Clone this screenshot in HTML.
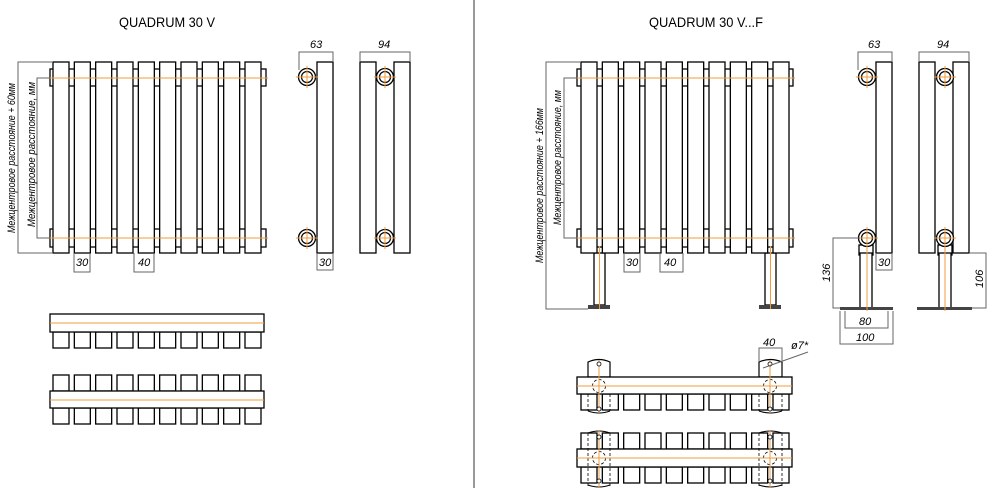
<!DOCTYPE html>
<html><head><meta charset="utf-8"><style>
html,body{margin:0;padding:0;background:#fff}
svg{display:block}
text{font-family:"Liberation Sans","DejaVu Sans",sans-serif}
.t{font-size:14px}
.d{font-size:11px;font-style:italic}
</style></head><body>
<svg width="1000" height="488" viewBox="0 0 1000 488" xmlns="http://www.w3.org/2000/svg">
<defs>
<rect id="sec" x="0" y="0" width="16" height="191" fill="#fff" stroke="#000" stroke-width="1.3"/>
<rect id="sq" x="0" y="0" width="16" height="16" fill="#fff" stroke="#000" stroke-width="1.3"/>
<g id="pipe"><circle r="8.5" fill="#fff" stroke="#000" stroke-width="1.3"/><circle r="5.5" fill="none" stroke="#000" stroke-width="1.2"/><line x1="-11" y1="0" x2="11" y2="0" stroke="#f39c3c" stroke-width="1"/><line x1="0" y1="-11" x2="0" y2="11" stroke="#f39c3c" stroke-width="1"/></g>
<g id="row10">
<use href="#sq" x="0"/><use href="#sq" x="21.33"/><use href="#sq" x="42.67"/><use href="#sq" x="64"/><use href="#sq" x="85.33"/><use href="#sq" x="106.67"/><use href="#sq" x="128"/><use href="#sq" x="149.33"/><use href="#sq" x="170.67"/><use href="#sq" x="192"/>
</g>
<g id="secs">
<use href="#sec" x="0"/><use href="#sec" x="21.33"/><use href="#sec" x="42.67"/><use href="#sec" x="64"/><use href="#sec" x="85.33"/><use href="#sec" x="106.67"/><use href="#sec" x="128"/><use href="#sec" x="149.33"/><use href="#sec" x="170.67"/><use href="#sec" x="192"/>
</g>
</defs>

<line x1="474" y1="0" x2="474" y2="488" stroke="#333" stroke-width="1"/>
<text class="t" x="119" y="27" textLength="96" lengthAdjust="spacingAndGlyphs">QUADRUM 30 V</text>
<text class="t" x="649" y="27" textLength="114" lengthAdjust="spacingAndGlyphs">QUADRUM 30 V...F</text>

<!-- LEFT front -->
<g stroke="#000" stroke-width="1.3" fill="#fff">
<rect x="50" y="69" width="216" height="17"/>
<rect x="50" y="229" width="216" height="18"/>
</g>
<use href="#secs" x="53" y="62"/>
<line x1="50" y1="78" x2="268" y2="78" stroke="#f39c3c" stroke-width="1"/>
<line x1="50" y1="238" x2="268" y2="238" stroke="#f39c3c" stroke-width="1"/>
<g stroke="#666" stroke-width="1" fill="none">
<polyline points="53,62 18,62 18,253 53,253"/>
<polyline points="50,78 37,78 37,238 50,238"/>
<polyline points="74,253 74,272 90,272 90,253"/>
<polyline points="134,253 134,272 154,272 154,253"/>
</g>
<text class="d" transform="translate(15,233) rotate(-90)" textLength="150" lengthAdjust="spacingAndGlyphs">Межцентровое расстояние + 60мм</text>
<text class="d" transform="translate(35,227) rotate(-90)" textLength="145" lengthAdjust="spacingAndGlyphs">Межцентровое расстояние, мм</text>
<text class="d" x="76" y="266">30</text>
<text class="d" x="138" y="266">40</text>

<!-- LEFT side views -->
<rect x="317" y="62" width="16" height="191" fill="#fff" stroke="#000" stroke-width="1.3"/>
<use href="#pipe" x="307" y="77"/><use href="#pipe" x="307" y="238"/>
<rect x="360" y="62" width="16" height="191" fill="#fff" stroke="#000" stroke-width="1.3"/>
<rect x="394" y="62" width="16" height="191" fill="#fff" stroke="#000" stroke-width="1.3"/>
<use href="#pipe" x="385" y="77"/><use href="#pipe" x="385" y="238"/>
<g stroke="#666" stroke-width="1" fill="none">
<polyline points="299,70 299,52 333,52 333,62"/>
<polyline points="360,62 360,52 410,52 410,62"/>
<polyline points="317,253 317,270 333,270 333,253"/>
</g>
<text class="d" x="310" y="48">63</text>
<text class="d" x="378" y="48">94</text>
<text class="d" x="319" y="266">30</text>

<!-- LEFT top views -->
<use href="#row10" x="53" y="332"/>
<rect x="50" y="314" width="214" height="18" fill="#fff" stroke="#000" stroke-width="1.3"/>
<line x1="50" y1="323" x2="264" y2="323" stroke="#f39c3c" stroke-width="1"/>
<use href="#row10" x="53" y="375"/>
<use href="#row10" x="53" y="408"/>
<rect x="50" y="391" width="214" height="17" fill="#fff" stroke="#000" stroke-width="1.3"/>
<line x1="50" y1="400" x2="264" y2="400" stroke="#f39c3c" stroke-width="1"/>

<!-- RIGHT front -->
<g stroke="#000" stroke-width="1.3" fill="#fff">
<rect x="577" y="69" width="216" height="17"/>
<rect x="577" y="229" width="216" height="18"/>
<rect x="594" y="253" width="11" height="52"/>
<rect x="765" y="253" width="11" height="52"/>
</g>
<rect x="588" y="305" width="22" height="4" fill="#444"/>
<rect x="759" y="305" width="22" height="4" fill="#444"/>
<use href="#secs" x="581" y="62"/>
<line x1="577" y1="78" x2="795" y2="78" stroke="#f39c3c" stroke-width="1"/>
<line x1="577" y1="238" x2="795" y2="238" stroke="#f39c3c" stroke-width="1"/>
<line x1="599.5" y1="246" x2="599.5" y2="309" stroke="#f39c3c" stroke-width="1"/>
<line x1="770.5" y1="246" x2="770.5" y2="309" stroke="#f39c3c" stroke-width="1"/>
<g stroke="#666" stroke-width="1" fill="none">
<polyline points="581,62 546,62 546,309 588,309"/>
<polyline points="577,78 564,78 564,238 577,238"/>
<polyline points="624,253 624,272 640,272 640,253"/>
<polyline points="660,253 660,272 683,272 683,253"/>
</g>
<text class="d" transform="translate(543,263) rotate(-90)" textLength="155" lengthAdjust="spacingAndGlyphs">Межцентровое расстояние + 166мм</text>
<text class="d" transform="translate(561,225) rotate(-90)" textLength="135" lengthAdjust="spacingAndGlyphs">Межцентровое расстояние, мм</text>
<text class="d" x="626" y="266">30</text>
<text class="d" x="664" y="266">40</text>

<!-- RIGHT side views -->
<rect x="876" y="62" width="16" height="191" fill="#fff" stroke="#000" stroke-width="1.3"/>
<rect x="859" y="245" width="14" height="10" fill="#fff" stroke="#000" stroke-width="1.3"/>
<rect x="860" y="253" width="12" height="55" fill="#fff" stroke="#000" stroke-width="1.3"/>
<rect x="840" y="307" width="53" height="3" fill="#444"/>
<line x1="867" y1="245" x2="867" y2="311" stroke="#f39c3c" stroke-width="1"/>
<use href="#pipe" x="867" y="77"/><use href="#pipe" x="867" y="238"/>
<rect x="919" y="62" width="16" height="191" fill="#fff" stroke="#000" stroke-width="1.3"/>
<rect x="953" y="62" width="16" height="191" fill="#fff" stroke="#000" stroke-width="1.3"/>
<rect x="938" y="245" width="14" height="10" fill="#fff" stroke="#000" stroke-width="1.3"/>
<rect x="939" y="253" width="12" height="55" fill="#fff" stroke="#000" stroke-width="1.3"/>
<rect x="917" y="307" width="55" height="3" fill="#444"/>
<line x1="945" y1="245" x2="945" y2="311" stroke="#f39c3c" stroke-width="1"/>
<use href="#pipe" x="945" y="77"/><use href="#pipe" x="945" y="238"/>
<g stroke="#666" stroke-width="1" fill="none">
<polyline points="858,70 858,52 892,52 892,62"/>
<polyline points="919,62 919,52 969,52 969,62"/>
<polyline points="876,253 876,270 892,270 892,253"/>
<polyline points="860,238 833,238 833,308 840,308"/>
<polyline points="845,311 845,328 888,328 888,311"/>
<polyline points="840,311 840,344 893,344 893,311"/>
<polyline points="969,253 986,253 986,308 972,308"/>
</g>
<text class="d" x="868" y="48">63</text>
<text class="d" x="937" y="48">94</text>
<text class="d" x="878" y="266">30</text>
<text class="d" x="859" y="325">80</text>
<text class="d" x="856" y="341">100</text>
<text class="d" transform="translate(830,282) rotate(-90)">136</text>
<text class="d" transform="translate(983,288) rotate(-90)">106</text>

<!-- RIGHT top views -->
<use href="#row10" x="581" y="394"/>
<g fill="#fff" stroke="#000" stroke-width="1.2">
<path d="M588,377 L588,362 Q599,357 610,362 L610,377 Z"/>
<path d="M759,377 L759,362 Q770,357 782,362 L782,377 Z"/>
</g>
<rect x="577" y="377" width="215" height="17" fill="#fff" stroke="#000" stroke-width="1.3"/>
<g stroke="#000" stroke-width="0.8" fill="none" stroke-dasharray="3,2">
<line x1="588" y1="394" x2="588" y2="411"/><line x1="610" y1="394" x2="610" y2="411"/>
<line x1="759" y1="394" x2="759" y2="411"/><line x1="782" y1="394" x2="782" y2="411"/>
<circle cx="599" cy="386" r="6.5"/><circle cx="770" cy="386" r="6.5"/>
</g>
<path d="M588,411 Q599,415 610,411 M759,411 Q770,415 782,411" fill="none" stroke="#000" stroke-width="1"/>
<line x1="577" y1="386" x2="792" y2="386" stroke="#f39c3c" stroke-width="1"/>
<line x1="599" y1="360" x2="599" y2="413" stroke="#f39c3c" stroke-width="1"/>
<line x1="770" y1="360" x2="770" y2="413" stroke="#f39c3c" stroke-width="1"/>
<g fill="#fff" stroke="#000" stroke-width="0.8">
<circle cx="599" cy="364" r="2"/><circle cx="599" cy="409" r="2"/>
<circle cx="770" cy="364" r="2"/><circle cx="770" cy="409" r="2"/>
</g>
<g stroke="#666" stroke-width="1" fill="none">
<polyline points="759,362 759,348 782,348 782,362"/>
<line x1="763" y1="368" x2="808" y2="352"/>
</g>
<text class="d" x="763" y="346">40</text>
<text class="d" x="791" y="349">ø7*</text>

<use href="#row10" x="581" y="433"/>
<use href="#row10" x="581" y="467"/>
<rect x="577" y="449" width="215" height="18" fill="#fff" stroke="#000" stroke-width="1.3"/>
<g stroke="#000" stroke-width="0.8" fill="none" stroke-dasharray="3,2">
<line x1="588" y1="433" x2="588" y2="486"/><line x1="610" y1="433" x2="610" y2="486"/>
<line x1="759" y1="433" x2="759" y2="486"/><line x1="782" y1="433" x2="782" y2="486"/>
<circle cx="599" cy="458" r="6.5"/><circle cx="770" cy="458" r="6.5"/>
</g>
<path d="M588,433 Q599,429 610,433 M759,433 Q770,429 782,433 M588,485 Q599,489 610,485 M759,485 Q770,489 782,485" fill="none" stroke="#000" stroke-width="1"/>
<line x1="577" y1="458" x2="792" y2="458" stroke="#f39c3c" stroke-width="1"/>
<line x1="599" y1="430" x2="599" y2="488" stroke="#f39c3c" stroke-width="1"/>
<line x1="770" y1="430" x2="770" y2="488" stroke="#f39c3c" stroke-width="1"/>
<g fill="#fff" stroke="#000" stroke-width="0.8">
<circle cx="599" cy="437" r="2"/><circle cx="599" cy="481" r="2"/>
<circle cx="770" cy="437" r="2"/><circle cx="770" cy="481" r="2"/>
</g>
</svg>
</body></html>
